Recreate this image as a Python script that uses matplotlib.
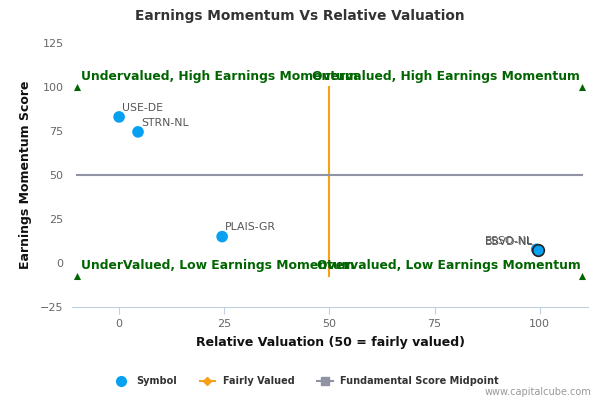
import matplotlib
matplotlib.use("Agg")
import matplotlib.pyplot as plt
from matplotlib.lines import Line2D

symbols = ["USE-DE", "STRN-NL", "PLAIS-GR", "ESSO-NL", "BBVD-NL"]
valuation = [0.0, 4.5, 24.5, 99.3, 99.6]
momentum = [83.0, 74.5, 15.0, 7.8, 7.5]

corner_x = [-10, 110, -10, 110]
corner_y = [100, 100, -7.5, -7.5]
quad_labels = ["Undervalued, High Earnings Momentum", "Overvalued, High Earnings Momentum",
               "UnderValued, Low Earnings Momentum", "Overvalued, Low Earnings Momentum"]

fair_x = [50, 50]
fair_y = [-7.5, 100]
mid_x = [-10, 110]
mid_y = [50, 50]

xticks = [0, 25, 50, 75, 100]
yticks = [-25, 0, 25, 50, 75, 100, 125]

fig = plt.figure(figsize=(6, 4), dpi=100)
ax = fig.add_axes([0.12, 0.2325, 0.86, 0.66])
ax.set_xlim(-11.2, 111.5)
ax.set_ylim(-25, 125)

ax.plot(fair_x, fair_y, color="#F7A11A", lw=1.5, zorder=2)
ax.plot(mid_x, mid_y, color="#8F93A3", lw=1.5, zorder=2)

ax.scatter(corner_x, corner_y, marker="^", s=26, color="#006400", zorder=3, linewidths=0)
green = "#006400"
qfs = 8.9
ax.annotate(quad_labels[0], (corner_x[0], corner_y[0]), xytext=(3, 3), textcoords="offset points",
            ha="left", va="bottom", color=green, fontsize=qfs, fontweight="bold")
ax.annotate(quad_labels[1], (corner_x[1], corner_y[1]), xytext=(-1, 3), textcoords="offset points",
            ha="right", va="bottom", color=green, fontsize=qfs, fontweight="bold")
ax.annotate(quad_labels[2], (corner_x[2], corner_y[2]), xytext=(3, 3), textcoords="offset points",
            ha="left", va="bottom", color=green, fontsize=qfs, fontweight="bold")
ax.annotate(quad_labels[3], (corner_x[3], corner_y[3]), xytext=(-1, 3), textcoords="offset points",
            ha="right", va="bottom", color=green, fontsize=qfs, fontweight="bold")

for i, (x, y, s) in enumerate(zip(valuation, momentum, symbols)):
    edge = "#222222" if i == len(symbols) - 1 else "none"
    ax.scatter([x], [y], s=70, color="#08A0F0", edgecolors=edge, linewidths=1.2, zorder=4)
    if x > 90:
        ax.annotate(s, (x, y), xytext=(-3, 2), textcoords="offset points", ha="right", va="bottom",
                    fontsize=7.8, color="#555555", zorder=5)
    else:
        ax.annotate(s, (x, y), xytext=(2, 3), textcoords="offset points", ha="left", va="bottom",
                    fontsize=7.8, color="#555555", zorder=5)

ax.set_xticks(xticks)
ax.set_yticks(yticks)
ax.tick_params(axis="x", colors="#C0D0E0", labelcolor="#666666", labelsize=8, length=5)
ax.tick_params(axis="y", length=0, labelcolor="#666666", labelsize=8, pad=6)
for sp in ["top", "right", "left"]:
    ax.spines[sp].set_visible(False)
ax.spines["bottom"].set_color("#C0D0E0")

ax.set_xlabel("Relative Valuation (50 = fairly valued)", fontsize=9, fontweight="bold", color="#111111", labelpad=5)
ax.set_ylabel("Earnings Momentum Score", fontsize=9, fontweight="bold", color="#111111", labelpad=6)

fig.text(0.5, 0.96, "Earnings Momentum Vs Relative Valuation", ha="center", va="center",
         fontsize=9.9, fontweight="bold", color="#333333")

handles = [
    Line2D([], [], marker="o", ls="none", color="#08A0F0", markersize=7),
    Line2D([], [], marker="D", color="#F7A11A", lw=1.5, markersize=4),
    Line2D([], [], marker="s", color="#8F93A3", lw=1.5, markersize=6),
]
leg = fig.legend(handles, ["Symbol", "Fairly Valued", "Fundamental Score Midpoint"],
                 loc="center", bbox_to_anchor=(0.51, 0.047), ncol=3, frameon=False,
                 prop={"size": 7, "weight": "bold"}, handlelength=1.6, columnspacing=2.3)
for t in leg.get_texts():
    t.set_color("#333333")

fig.text(0.985, 0.02, "www.capitalcube.com", ha="right", va="center", fontsize=7, color="#999999")

fig.savefig("out.png", dpi=100)
